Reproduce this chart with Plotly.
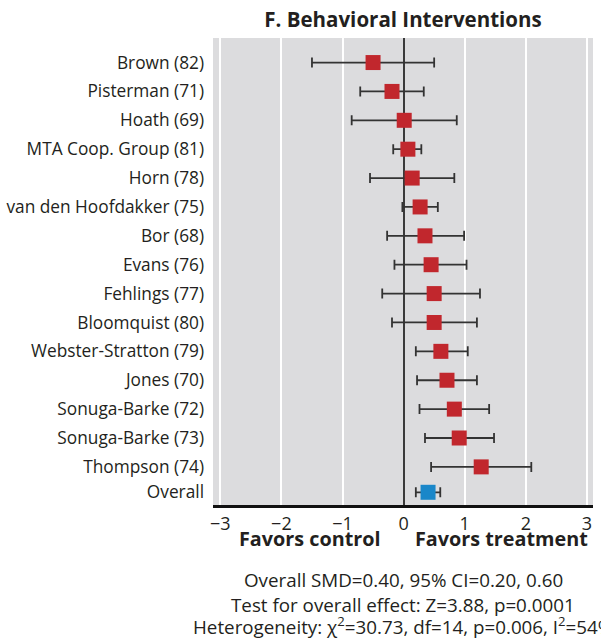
import plotly.graph_objects as go

# Study labels, top to bottom
studies = [
    "Brown (82)", "Pisterman (71)", "Hoath (69)", "MTA Coop. Group (81)",
    "Horn (78)", "van den Hoofdakker (75)", "Bor (68)", "Evans (76)",
    "Fehlings (77)", "Bloomquist (80)", "Webster-Stratton (79)", "Jones (70)",
    "Sonuga-Barke (72)", "Sonuga-Barke (73)", "Thompson (74)",
]
# Standardized mean differences with 95% confidence limits
smd = [-0.50, -0.19, 0.01, 0.07, 0.14, 0.27, 0.35, 0.45, 0.50, 0.50, 0.61, 0.71, 0.83, 0.91, 1.27]
ci_low = [-1.50, -0.71, -0.85, -0.17, -0.55, -0.02, -0.27, -0.15, -0.35, -0.19, 0.20, 0.22, 0.26, 0.35, 0.45]
ci_high = [0.50, 0.33, 0.87, 0.29, 0.83, 0.56, 0.99, 1.03, 1.25, 1.20, 1.05, 1.20, 1.40, 1.48, 2.09]

overall_label = "Overall"
overall_smd = 0.40
overall_low = 0.20
overall_high = 0.60

x_ticks = [-3, -2, -1, 0, 1, 2, 3]
x_tick_text = ["\u22123", "\u22122", "\u22121", "0", "1", "2", "3"]

FONT = "Open Sans"
INK = "#231f20"
RED = "#c1272d"
BLUE = "#1a87c9"

rows = list(range(len(studies)))
overall_row = len(studies) - 0.12

fig = go.Figure()

fig.add_trace(go.Scatter(
    x=smd, y=rows, mode="markers",
    marker=dict(symbol="square", size=15, color=RED, line=dict(width=0)),
    error_x=dict(
        type="data", symmetric=False,
        array=[h - m for h, m in zip(ci_high, smd)],
        arrayminus=[m - l for m, l in zip(smd, ci_low)],
        color="#333333", thickness=1.8, width=5,
    ),
    showlegend=False, hoverinfo="skip",
))

fig.add_trace(go.Scatter(
    x=[overall_smd], y=[overall_row], mode="markers",
    marker=dict(symbol="square", size=15, color=BLUE, line=dict(width=0)),
    error_x=dict(
        type="data", symmetric=False,
        array=[overall_high - overall_smd],
        arrayminus=[overall_smd - overall_low],
        color="#333333", thickness=1.8, width=5,
    ),
    showlegend=False, hoverinfo="skip",
))

fig.update_layout(
    width=601, height=639,
    margin=dict(l=213, r=8, t=38, b=134),
    paper_bgcolor="white",
    plot_bgcolor="#dcdcde",
    font=dict(family=FONT, color=INK, size=17),
    title=dict(
        text="<b>F. Behavioral Interventions</b>",
        x=0.5, xref="paper", xanchor="center",
        y=1 - 20 / 639, yref="container", yanchor="middle",
        font=dict(size=20.5, family=FONT, color=INK),
    ),
)

fig.update_xaxes(
    range=[-3.12, 3.1],
    tickvals=x_ticks, ticktext=x_tick_text,
    showgrid=True, gridcolor="white", gridwidth=1.5,
    zeroline=True, zerolinecolor="#3a3a3a", zerolinewidth=2,
    showline=True, linecolor="#111111", linewidth=3,
    ticks="", tickfont=dict(size=18, family=FONT, color=INK),
    automargin=False,
)

fig.update_yaxes(
    range=[15.32, -0.85],
    tickvals=rows + [overall_row],
    ticktext=studies + [overall_label],
    showgrid=False, zeroline=False, showline=False,
    ticks="", ticklabelstandoff=8,
    tickfont=dict(size=17.3, family=FONT, color=INK),
    automargin=False,
)

# Direction labels under the axis
fig.add_annotation(text="<b>Favors control</b>", x=-0.34, xref="x", xanchor="right",
                   y=-(538 - 505) / 467, yref="paper", yanchor="middle", showarrow=False,
                   font=dict(size=19.8, family=FONT, color=INK))
fig.add_annotation(text="<b>Favors treatment</b>", x=0.15, xref="x", xanchor="left",
                   y=-(538 - 505) / 467, yref="paper", yanchor="middle", showarrow=False,
                   font=dict(size=19.8, family=FONT, color=INK))

# Summary statistics
summary_lines = [
    "Overall SMD=0.40, 95% CI=0.20, 0.60",
    "Test for overall effect: Z=3.88, p=0.0001",
    "Heterogeneity: \u03c7<sup>2</sup>=30.73, df=14, p=0.006, I<sup>2</sup>=54%",
]
line_offsets = [75, 100, 121]
for line, off in zip(summary_lines, line_offsets):
    fig.add_annotation(text=line, x=0.5, xref="paper", xanchor="center",
                       y=-off / 467, yref="paper", yanchor="middle",
                       showarrow=False, font=dict(size=18.8, family=FONT, color=INK))

fig.write_html("out.html")
